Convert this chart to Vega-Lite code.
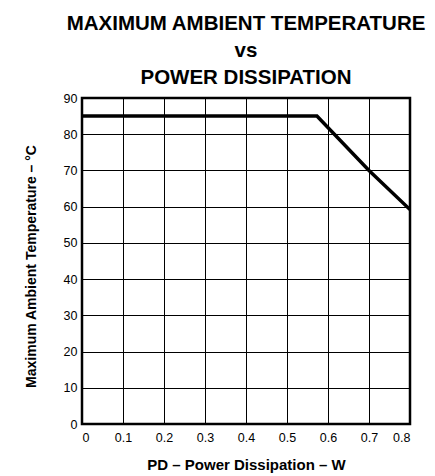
{
  "$schema": "https://vega.github.io/schema/vega-lite/v6.json",
  "autosize": {"type": "none"},
  "padding": {"left": 82, "top": 98, "right": 25, "bottom": 52},
  "width": 328,
  "height": 326,
  "background": "white",
  "title": {
    "text": ["MAXIMUM AMBIENT TEMPERATURE", "vs", "POWER DISSIPATION"],
    "font": "Liberation Sans",
    "fontSize": 20.5,
    "fontWeight": "bold",
    "lineHeight": 27,
    "anchor": "middle",
    "frame": "group",
    "color": "black",
    "offset": 4
  },
  "config": {
    "view": {"stroke": "black", "strokeWidth": 2.5},
    "axis": {
      "grid": true,
      "gridColor": "black",
      "gridOpacity": 1,
      "gridWidth": 1,
      "domain": false,
      "ticks": false,
      "labelFont": "Liberation Sans",
      "labelFontSize": 12.5,
      "labelColor": "black",
      "titleFont": "Liberation Sans",
      "titleFontSize": 14,
      "titleFontWeight": "bold",
      "titleColor": "black"
    }
  },
  "data": {
    "values": [
      {"pd": 0, "t": 85},
      {"pd": 0.573, "t": 85},
      {"pd": 0.7, "t": 70},
      {"pd": 0.8, "t": 59.2}
    ]
  },
  "mark": {"type": "line", "color": "black", "strokeWidth": 3.5, "clip": true},
  "encoding": {
    "x": {
      "field": "pd",
      "type": "quantitative",
      "scale": {"domain": [0, 0.8], "nice": false},
      "axis": {
        "values": [0, 0.1, 0.2, 0.3, 0.4, 0.5, 0.6, 0.7, 0.8],
        "format": "~g",
        "labelPadding": 7,
        "title": "PD – Power Dissipation – W",
        "titleFontSize": 15,
        "titleX": 164,
        "titleY": 45,
        "titleAlign": "center",
        "titleBaseline": "alphabetic"
      }
    },
    "y": {
      "field": "t",
      "type": "quantitative",
      "scale": {"domain": [0, 90], "nice": false},
      "axis": {
        "values": [0, 10, 20, 30, 40, 50, 60, 70, 80, 90],
        "labelPadding": 5,
        "title": "Maximum Ambient Temperature – °C",
        "titleX": -51,
        "titleY": 168,
        "titleAlign": "center",
        "titleBaseline": "middle",
        "titleAngle": -90
      }
    }
  }
}
